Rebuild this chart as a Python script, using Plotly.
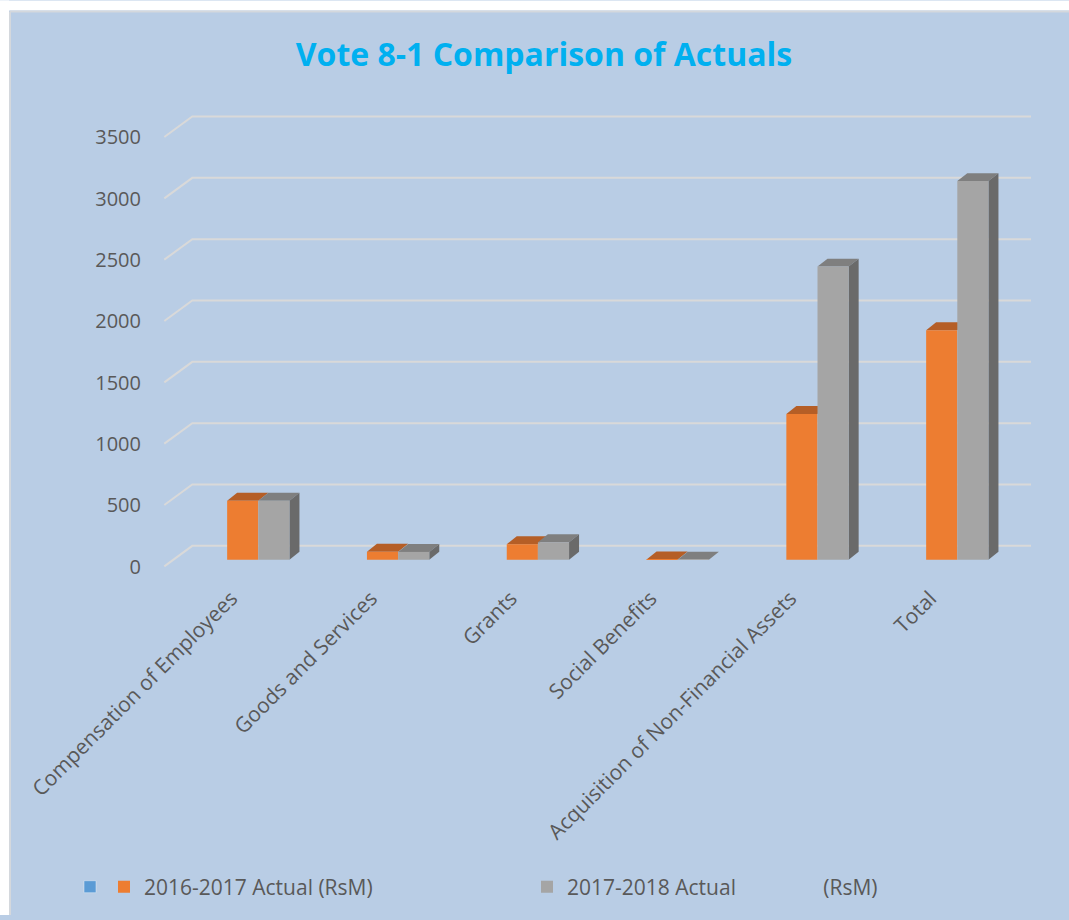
import plotly.graph_objects as go

# ---------------- data ----------------
categories = ["Compensation of Employees", "Goods and Services", "Grants",
              "Social Benefits", "Acquisition of Non-Financial Assets", "Total"]
actual_2016_2017 = [481, 65, 127, 2, 1188, 1872]
actual_2017_2018 = [481, 64, 143, 1, 2390, 3087]
series_names = ["2016-2017 Actual (RsM)",
                "2017-2018 Actual" + "\u00a0" * 16 + "(RsM)"]
y_ticks = [0, 500, 1000, 1500, 2000, 2500, 3000, 3500]

# ---------------- layout constants (screen pixels) ----------------
W, H = 1069, 920
PX_PER_UNIT = 61.71 / 500.0       # vertical pixels per value unit
ZERO_PX = 562.7                   # screen row of bar base
TOP_PX, BOT_PX = 80, 574
PX_PER_CAT = 139.8
CAT0_PX = 258.3
LEFT_PX, RIGHT_PX = 153, 1045
BAR_W = 31.15 / PX_PER_CAT        # bar width in category units
DEPTH_DX = 10 / PX_PER_CAT        # 3D depth offset (x, category units)
DEPTH_DY = 8 / PX_PER_UNIT        # 3D depth offset (y, value units)

y_range = [-(BOT_PX - ZERO_PX) / PX_PER_UNIT, (ZERO_PX - TOP_PX) / PX_PER_UNIT]
x_range = [(LEFT_PX - CAT0_PX) / PX_PER_CAT, (RIGHT_PX - CAT0_PX) / PX_PER_CAT]

ORANGE, ORANGE_TOP = "#ed7d31", "#b55e26"
GREY, GREY_TOP, GREY_SIDE = "#a5a5a5", "#7f7f7f", "#6a6a6a"
BLUE = "#5b9bd5"
BG = "#b9cde5"
BORDER = "#d4d8dd"
TXT = "#595959"
FONT = "Open Sans"
FS = 21

xs = list(range(len(categories)))

fig = go.Figure()
# empty first series (shown only in the legend, as in the original)
fig.add_trace(go.Bar(x=[None], y=[None], name="", marker_color=BLUE,
                     showlegend=True, legend="legend"))
fig.add_trace(go.Bar(x=xs, y=actual_2016_2017, name=series_names[0],
                     marker=dict(color=ORANGE, line=dict(width=0)),
                     width=BAR_W, offset=-BAR_W, legend="legend2"))
fig.add_trace(go.Bar(x=xs, y=actual_2017_2018, name=series_names[1],
                     marker=dict(color=GREY, line=dict(width=0)),
                     width=BAR_W, offset=0, legend="legend3"))

plot_w = RIGHT_PX - LEFT_PX
plot_h = BOT_PX - TOP_PX


def px_x(px):
    return (px - LEFT_PX) / plot_w


def px_y(py):
    return (BOT_PX - py) / plot_h


shapes = []
# white page strips (top and left) with the light grey panel border
shapes.append(dict(type="rect", xref="paper", yref="paper", layer="below",
                   x0=px_x(0), x1=px_x(W), y0=px_y(10), y1=px_y(0),
                   fillcolor="white", line=dict(width=0)))
shapes.append(dict(type="rect", xref="paper", yref="paper", layer="below",
                   x0=px_x(0), x1=px_x(9), y0=px_y(H), y1=px_y(0),
                   fillcolor="white", line=dict(width=0)))
shapes.append(dict(type="line", xref="paper", yref="paper", layer="below",
                   x0=px_x(10), x1=px_x(W), y0=px_y(11), y1=px_y(11),
                   line=dict(color=BORDER, width=2)))
shapes.append(dict(type="line", xref="paper", yref="paper", layer="below",
                   x0=px_x(10), x1=px_x(10), y0=px_y(11), y1=px_y(H),
                   line=dict(color=BORDER, width=2)))

# 3D-style gridlines (front ledge + back wall)
xf = (164.3 - CAT0_PX) / PX_PER_CAT
xb = (192.3 - CAT0_PX) / PX_PER_CAT
xe = (1031 - CAT0_PX) / PX_PER_CAT
front_off = -6.6 / PX_PER_UNIT
back_off = 14.0 / PX_PER_UNIT
for v in y_ticks:
    shapes.append(dict(type="path", xref="x", yref="y", layer="below",
                       path=f"M{xf},{v + front_off} L{xb},{v + back_off} L{xe},{v + back_off}",
                       line=dict(color="#d9d9d9", width=2)))

# 3D faces of the bars
for i, (a, b) in enumerate(zip(actual_2016_2017, actual_2017_2018)):
    x0, x1 = i - BAR_W, i
    shapes.append(dict(type="path", xref="x", yref="y", layer="between",
                       path=f"M{x0},{a} L{x1},{a} L{x1 + DEPTH_DX},{a + DEPTH_DY} L{x0 + DEPTH_DX},{a + DEPTH_DY} Z",
                       fillcolor=ORANGE_TOP, line=dict(width=0)))
    x0, x1 = i, i + BAR_W
    shapes.append(dict(type="path", xref="x", yref="y", layer="between",
                       path=f"M{x0},{b} L{x1},{b} L{x1 + DEPTH_DX},{b + DEPTH_DY} L{x0 + DEPTH_DX},{b + DEPTH_DY} Z",
                       fillcolor=GREY_TOP, line=dict(width=0)))
    shapes.append(dict(type="path", xref="x", yref="y", layer="between",
                       path=f"M{x1},0 L{x1},{b} L{x1 + DEPTH_DX},{b + DEPTH_DY} L{x1 + DEPTH_DX},{DEPTH_DY} Z",
                       fillcolor=GREY_SIDE, line=dict(width=0)))

leg_y = px_y(892)


def leg(px):
    return dict(x=px_x(px), y=leg_y, xanchor="left", yanchor="middle",
                orientation="h", bgcolor="rgba(0,0,0,0)", borderwidth=0,
                font=dict(family=FONT, size=FS, color=TXT), itemwidth=30)


fig.update_layout(
    width=W, height=H,
    margin=dict(l=LEFT_PX, r=W - RIGHT_PX, t=TOP_PX, b=H - BOT_PX, pad=0),
    paper_bgcolor=BG, plot_bgcolor="rgba(0,0,0,0)",
    barmode="overlay",
    title=dict(text="<b>Vote 8-1 Comparison of Actuals</b>",
               x=544 / W, xref="container", xanchor="center",
               y=1 - 55 / H, yref="container", yanchor="middle",
               font=dict(family=FONT, size=32, color="#00b0f0")),
    font=dict(family=FONT, color=TXT),
    xaxis=dict(range=x_range, tickmode="array", tickvals=xs, ticktext=categories,
               tickangle=-45, showgrid=False, zeroline=False, showline=False,
               ticks="", tickfont=dict(family=FONT, size=FS, color=TXT),
               ticklabelshift=-27, ticklabelstandoff=10),
    yaxis=dict(range=y_range, tickmode="array", tickvals=y_ticks,
               showgrid=False, zeroline=False, showline=False, ticks="",
               tickfont=dict(family=FONT, size=20, color=TXT),
               ticklabelshift=7, ticklabelstandoff=11),
    shapes=shapes,
    legend=leg(70),
    legend2=leg(104),
    legend3=leg(527),
)

fig.write_html("out.html",
               config={"displayModeBar": False},
               post_script="document.body.style.margin='0';"
                           "document.body.style.overflow='hidden';"
                           f"document.body.style.background='{BG}';"
                           f"document.documentElement.style.background='{BG}';")
